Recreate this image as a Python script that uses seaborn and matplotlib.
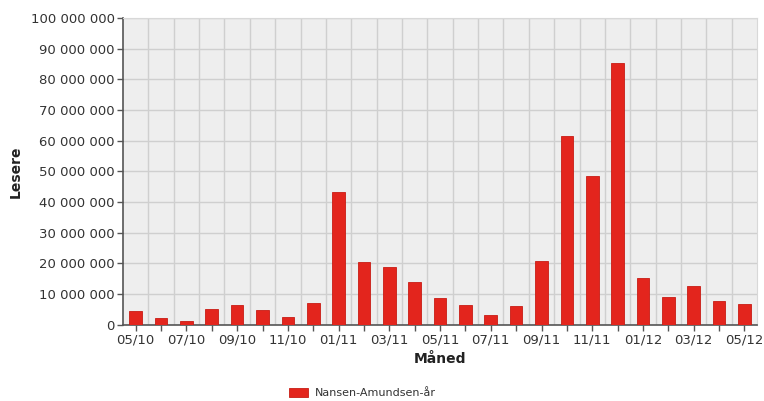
import matplotlib
matplotlib.use('Agg')
import matplotlib.pyplot as plt
import matplotlib.ticker as mticker
import seaborn as sns
import pandas as pd

# Monthly readers, May 2010 - May 2012
months = ['05/10', '06/10', '07/10', '08/10', '09/10', '10/10', '11/10', '12/10',
          '01/11', '02/11', '03/11', '04/11', '05/11', '06/11', '07/11', '08/11',
          '09/11', '10/11', '11/11', '12/11', '01/12', '02/12', '03/12', '04/12', '05/12']
readers_mill = [4.6, 2.2, 1.4, 5.2, 6.6, 4.9, 2.5, 7.0,
                43.3, 20.5, 18.7, 14.1, 8.7, 6.6, 3.3, 6.0,
                20.7, 61.5, 48.4, 85.2, 15.2, 9.0, 12.5, 7.6, 6.7]
series_name = 'Nansen-Amundsen-år'

df = pd.DataFrame({'Måned': months, 'Lesere': [v * 1e6 for v in readers_mill]})

sns.set_style('white')
plt.rcParams['font.family'] = ['DejaVu Sans']

fig = plt.figure(figsize=(7.64, 4.01), dpi=100)
ax = fig.add_axes([0.161, 0.19, 0.83, 0.765])
ax.set_facecolor('#eeeeee')

sns.barplot(data=df, x='Måned', y='Lesere', color='#e3251d', width=0.5,
            saturation=1, edgecolor='#c81c14', linewidth=0.6, ax=ax,
            label=series_name, legend=False, zorder=3)

ax.set_ylim(0, 100e6)
ax.set_xlim(-0.5, len(months) - 0.5)
ax.yaxis.set_major_locator(mticker.MultipleLocator(10e6))
ax.yaxis.set_major_formatter(mticker.FuncFormatter(lambda v, p: f'{int(v):,}'.replace(',', ' ')))

ax.set_xticks(range(len(months)))
ax.set_xticklabels([m if i % 2 == 0 else '' for i, m in enumerate(months)])
ax.set_xticks([i + 0.5 for i in range(len(months) - 1)], minor=True)

ax.grid(axis='y', which='major', color='#cfcfcf', linewidth=1.0, zorder=0)
ax.grid(axis='x', which='minor', color='#cfcfcf', linewidth=1.0, zorder=0)
ax.set_axisbelow(True)

for s in ['top', 'right']:
    ax.spines[s].set_color('#d8d8d8')
    ax.spines[s].set_linewidth(0.8)
for s in ['left', 'bottom']:
    ax.spines[s].set_color('#555555')
    ax.spines[s].set_linewidth(1.2)

ax.tick_params(axis='both', which='major', direction='out', length=4, width=1,
               color='#555555', labelcolor='#333333', labelsize=9.5, pad=2)
ax.tick_params(axis='x', which='minor', length=0)
ax.tick_params(left=True, bottom=True)

ax.set_xlabel('Måned', fontsize=10, fontweight='bold', color='#222222', labelpad=4)
ax.set_ylabel('Lesere', fontsize=10, fontweight='bold', color='#222222', labelpad=6)

handles, labels = ax.get_legend_handles_labels()
fig.legend(handles, labels, loc='center', bbox_to_anchor=(0.474, 0.02), frameon=False,
           fontsize=8, handlelength=1.7, handleheight=0.9, handletextpad=0.6,
           labelcolor='#333333')

fig.savefig('out.png', dpi=100)
